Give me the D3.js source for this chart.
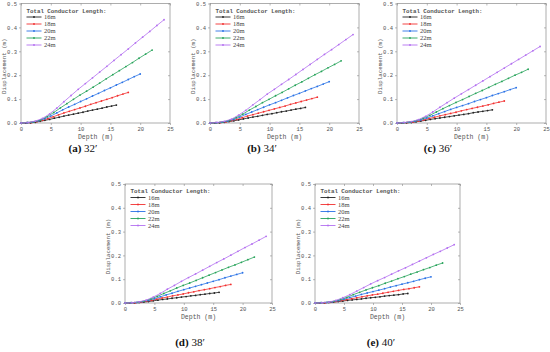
<!DOCTYPE html>
<html>
<head>
<meta charset="utf-8">
<script src="https://cdn.jsdelivr.net/npm/d3@7"></script>
<style>
  body { margin: 0; background: #fff; }
  svg { display: block; }
</style>
</head>
<body>
<svg id="chart"></svg>
<script>
// conductor lengths and the colours used for them
const lengths = ["16m", "18m", "20m", "22m", "24m"];
const colors = ["#222222", "#f23030", "#2a72e6", "#27a35a", "#b36ff0"];

// depth of each node along the conductor (m)
const dep16 = [0,0.8,1.6,2.4,3.2,4,4.8,5.6,6.4,7.2,8,8.8,9.6,10.4,11.2,12,12.8,13.6,14.4,15.2,16];
const dep18 = [0,0.9,1.8,2.7,3.6,4.5,5.4,6.3,7.2,8.1,9,9.9,10.8,11.7,12.6,13.5,14.4,15.3,16.2,17.1,18];
const dep20 = [0,1,2,3,4,5,6,7,8,9,10,11,12,13,14,15,16,17,18,19,20];
const dep22 = [0,1.1,2.2,3.3,4.4,5.5,6.6,7.7,8.8,9.9,11,12.1,13.2,14.3,15.4,16.5,17.6,18.7,19.8,20.9,22];
const dep24 = [0,1.2,2.4,3.6,4.8,6,7.2,8.4,9.6,10.8,12,13.2,14.4,15.6,16.8,18,19.2,20.4,21.6,22.8,24];
const depths = [dep16, dep18, dep20, dep22, dep24];

// displacement (m), panel (a) 32'
const a16 = [0,0,0.001,0.003,0.007,0.011,0.015,0.020,0.024,0.029,0.033,0.037,0.041,0.045,0.050,0.054,0.058,0.062,0.067,0.071,0.075];
const a18 = [0,0.001,0.002,0.006,0.011,0.018,0.026,0.034,0.042,0.049,0.056,0.063,0.070,0.078,0.085,0.092,0.099,0.106,0.114,0.121,0.128];
const a20 = [0,0.001,0.004,0.009,0.018,0.029,0.042,0.055,0.067,0.078,0.090,0.101,0.113,0.124,0.136,0.147,0.159,0.170,0.182,0.194,0.205];
const a22 = [0,0.002,0.005,0.013,0.027,0.044,0.063,0.081,0.099,0.117,0.133,0.150,0.167,0.185,0.202,0.219,0.236,0.253,0.271,0.288,0.305];
const a24 = [0,0.002,0.008,0.019,0.038,0.062,0.089,0.115,0.141,0.165,0.189,0.213,0.237,0.262,0.286,0.310,0.335,0.359,0.383,0.408,0.432];

// panel (b) 34'
const b16 = [0,0,0.001,0.003,0.006,0.009,0.013,0.017,0.021,0.025,0.028,0.032,0.036,0.039,0.043,0.047,0.050,0.054,0.058,0.061,0.065];
const b18 = [0,0.001,0.002,0.005,0.010,0.015,0.022,0.029,0.035,0.041,0.047,0.053,0.059,0.065,0.071,0.078,0.084,0.090,0.096,0.102,0.108];
const b20 = [0,0.001,0.003,0.008,0.015,0.025,0.036,0.046,0.056,0.066,0.076,0.085,0.095,0.105,0.115,0.124,0.134,0.144,0.153,0.163,0.173];
const b22 = [0,0.001,0.005,0.011,0.023,0.037,0.054,0.069,0.085,0.099,0.114,0.128,0.143,0.158,0.172,0.187,0.202,0.216,0.231,0.245,0.260];
const b24 = [0,0.002,0.007,0.016,0.033,0.053,0.076,0.098,0.121,0.141,0.162,0.182,0.203,0.224,0.245,0.266,0.287,0.307,0.328,0.349,0.370];

// panel (c) 36'
const c16 = [0,0,0.001,0.002,0.005,0.008,0.011,0.015,0.018,0.021,0.024,0.027,0.030,0.033,0.036,0.039,0.043,0.046,0.049,0.052,0.055];
const c18 = [0,0,0.002,0.004,0.008,0.013,0.019,0.024,0.030,0.035,0.040,0.045,0.051,0.056,0.061,0.066,0.071,0.076,0.082,0.087,0.092];
const c20 = [0,0.001,0.003,0.007,0.013,0.021,0.030,0.039,0.048,0.057,0.065,0.073,0.081,0.090,0.098,0.106,0.115,0.123,0.131,0.140,0.148];
const c22 = [0,0.001,0.004,0.010,0.020,0.032,0.046,0.060,0.073,0.086,0.098,0.111,0.124,0.136,0.149,0.162,0.174,0.187,0.200,0.212,0.225];
const c24 = [0,0.002,0.006,0.014,0.028,0.046,0.066,0.085,0.104,0.122,0.140,0.158,0.176,0.194,0.212,0.230,0.248,0.266,0.284,0.302,0.320];

// panel (d) 38'
const d16 = [0,0,0.001,0.002,0.004,0.006,0.009,0.012,0.015,0.017,0.020,0.022,0.025,0.027,0.030,0.032,0.035,0.037,0.040,0.042,0.045];
const d18 = [0,0,0.001,0.003,0.007,0.011,0.016,0.021,0.025,0.030,0.034,0.038,0.043,0.047,0.052,0.056,0.060,0.065,0.069,0.074,0.078];
const d20 = [0,0.001,0.002,0.006,0.011,0.018,0.026,0.034,0.041,0.049,0.056,0.063,0.070,0.077,0.084,0.091,0.098,0.106,0.113,0.120,0.127];
const d22 = [0,0.001,0.003,0.008,0.017,0.028,0.040,0.051,0.063,0.074,0.084,0.095,0.106,0.117,0.128,0.139,0.150,0.160,0.171,0.182,0.193];
const d24 = [0,0.001,0.005,0.012,0.025,0.040,0.058,0.074,0.091,0.107,0.122,0.138,0.154,0.170,0.185,0.201,0.217,0.233,0.248,0.264,0.280];

// panel (e) 40'
const e16 = [0,0,0.001,0.002,0.004,0.006,0.008,0.011,0.013,0.015,0.017,0.020,0.022,0.024,0.026,0.029,0.031,0.033,0.035,0.038,0.040];
const e18 = [0,0,0.001,0.003,0.006,0.010,0.014,0.018,0.022,0.026,0.030,0.034,0.037,0.041,0.045,0.049,0.053,0.057,0.060,0.064,0.068];
const e20 = [0,0.001,0.002,0.005,0.010,0.016,0.023,0.029,0.036,0.042,0.048,0.054,0.060,0.067,0.073,0.079,0.085,0.091,0.098,0.104,0.110];
const e22 = [0,0.001,0.003,0.007,0.015,0.024,0.035,0.045,0.055,0.064,0.073,0.083,0.092,0.102,0.111,0.121,0.130,0.140,0.149,0.159,0.168];
const e24 = [0,0.001,0.004,0.011,0.022,0.035,0.050,0.065,0.080,0.094,0.107,0.121,0.135,0.148,0.162,0.176,0.190,0.204,0.217,0.231,0.245];

const xTicks = [0, 5, 10, 15, 20, 25];
const yTicks = [0, 0.1, 0.2, 0.3, 0.4, 0.5];
const legendTitle = "Total Conductor Length:";

const panels = [
  { letter: "a", angle: "32′", series: [a16, a18, a20, a22, a24], box: [21, 3.5, 170, 123], cap: [83, 152] },
  { letter: "b", angle: "34′", series: [b16, b18, b20, b22, b24], box: [210, 3.5, 359, 123], cap: [262, 152] },
  { letter: "c", angle: "36′", series: [c16, c18, c20, c22, c24], box: [397, 3.5, 546, 123], cap: [438, 152] },
  { letter: "d", angle: "38′", series: [d16, d18, d20, d22, d24], box: [125, 184, 272, 303], cap: [190, 346] },
  { letter: "e", angle: "40′", series: [e16, e18, e20, e22, e24], box: [315, 184, 460, 303], cap: [381, 346] }
];

const W = 550, H = 352;
const svg = d3.select("#chart").attr("width", W).attr("height", H).attr("viewBox", `0 0 ${W} ${H}`);

const monoFont = "'Liberation Mono', 'DejaVu Sans Mono', monospace";
const serifFont = "'Liberation Serif', 'DejaVu Serif', serif";
const axisColor = "#8a8a8a";
const textColor = "#555";

panels.forEach(p => {
  const [x0, y0, x1, y1] = p.box;
  const x = d3.scaleLinear().domain([0, 25]).range([x0, x1]);
  const y = d3.scaleLinear().domain([0, 0.5]).range([y1, y0]);
  const g = svg.append("g");

  // frame
  g.append("rect")
    .attr("x", x0).attr("y", y0)
    .attr("width", x1 - x0).attr("height", y1 - y0)
    .attr("fill", "none").attr("stroke", axisColor).attr("stroke-width", 0.7);

  g.append("g")
    .attr("transform", `translate(0,${y1})`)
    .call(d3.axisBottom(x).tickValues(xTicks).tickSize(2).tickPadding(2));
  g.append("g")
    .attr("transform", `translate(${x0},0)`)
    .call(d3.axisLeft(y).tickValues(yTicks).tickSize(2).tickPadding(2).tickFormat(d3.format(".1f")));
  // inner ticks on top and right
  g.append("g").attr("transform", `translate(0,${y0})`)
    .call(d3.axisTop(x).tickValues(xTicks).tickSize(-2).tickFormat(""));
  g.append("g").attr("transform", `translate(${x1},0)`)
    .call(d3.axisRight(y).tickValues(yTicks).tickSize(-2).tickFormat(""));

  g.selectAll(".domain").remove();
  g.selectAll(".tick line").attr("stroke", axisColor).attr("stroke-width", 0.6);
  g.selectAll(".tick text")
    .attr("font-family", monoFont).attr("font-size", 5.5).attr("fill", textColor);

  // axis titles
  g.append("text")
    .attr("x", (x0 + x1) / 2).attr("y", y1 + 15.5)
    .attr("text-anchor", "middle")
    .attr("font-family", monoFont).attr("font-size", 6.5).attr("fill", textColor)
    .text("Depth (m)");
  g.append("text")
    .attr("transform", `translate(${x0 - 15.5},${(y0 + y1) / 2 + 3}) rotate(-90)`)
    .attr("text-anchor", "middle")
    .attr("font-family", monoFont).attr("font-size", 5.8).attr("fill", textColor)
    .text("Displacement (m)");

  // series
  const line = d3.line().x(d => x(d[0])).y(d => y(d[1]));
  p.series.forEach((vals, i) => {
    const pts = depths[i].map((dd, j) => [dd, vals[j]]);
    g.append("path")
      .datum(pts)
      .attr("d", line)
      .attr("fill", "none")
      .attr("stroke", colors[i])
      .attr("stroke-width", 0.8);
    g.append("g").selectAll("circle")
      .data(pts)
      .join("circle")
      .attr("cx", d => x(d[0]))
      .attr("cy", d => y(d[1]))
      .attr("r", 0.9)
      .attr("fill", colors[i]);
  });

  // legend
  const lg = g.append("g").attr("transform", `translate(${x0 + 5.5},${y0})`);
  lg.append("text")
    .attr("x", 0).attr("y", 9)
    .attr("font-family", monoFont).attr("font-size", 5.8).attr("font-weight", "bold").attr("fill", "#555")
    .text(legendTitle);
  lengths.forEach((name, i) => {
    const ry = 13.5 + i * 7;
    lg.append("line")
      .attr("x1", 0).attr("x2", 15).attr("y1", ry).attr("y2", ry)
      .attr("stroke", colors[i]).attr("stroke-width", 0.9);
    lg.append("circle").attr("cx", 7.5).attr("cy", ry).attr("r", 0.9).attr("fill", colors[i]);
    lg.append("text")
      .attr("x", 17.5).attr("y", ry + 2)
      .attr("font-family", serifFont).attr("font-size", 6.5).attr("fill", "#444")
      .text(name);
  });

  // caption
  const cap = svg.append("text")
    .attr("x", p.cap[0]).attr("y", p.cap[1])
    .attr("text-anchor", "middle")
    .attr("font-family", serifFont)
    .attr("font-size", 11).attr("fill", "#111");
  cap.append("tspan").attr("font-weight", "bold").text("(" + p.letter + ")");
  cap.append("tspan").text(" " + p.angle);
});
</script>
</body>
</html>
